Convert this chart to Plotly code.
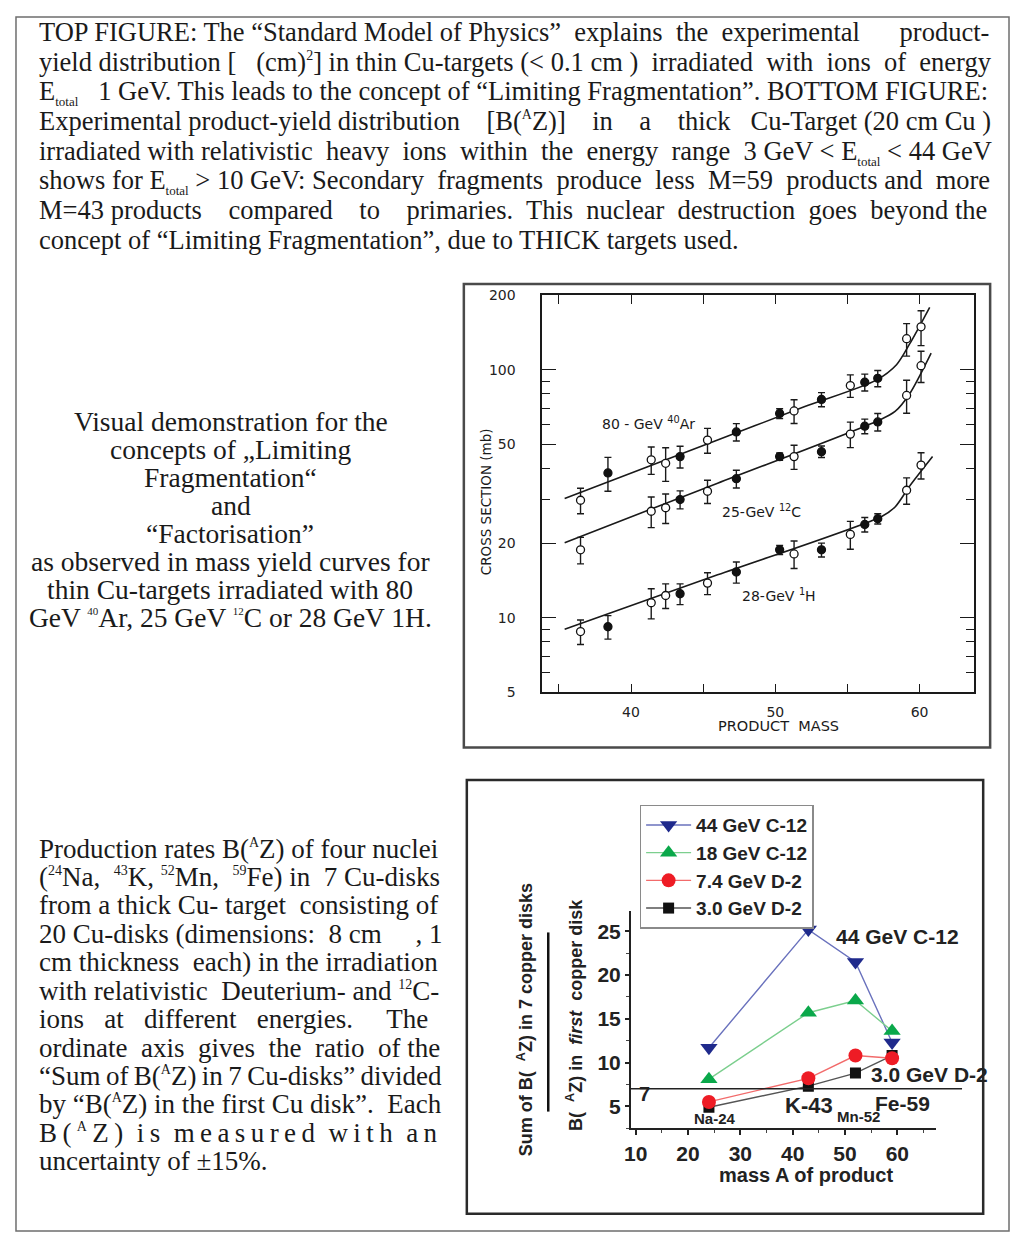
import plotly.graph_objects as go

# the page keeps the browser's 8px body margin: figure 1002x1232 placed at (8, 8) of the 1018x1248 page
PAGE_OFF = 8
W, H = 1002, 1232

# ---------------- top chart data (thin Cu targets) ----------------
mass_ar = [36.5, 38.4, 41.4, 42.4, 43.4, 45.3, 47.3, 50.3, 51.3, 53.2, 55.2, 56.2, 57.1, 59.1, 60.1]
sigma_ar = [29.8, 38.4, 43.4, 42.0, 44.7, 52.1, 56.2, 66.7, 68.3, 76.0, 86.5, 89.2, 92.5, 133.7, 149.3]
err_ar = [3.5, 6, 5.5, 6.5, 4.5, 6, 4.5, 3, 7.5, 5, 9, 7, 7, 20, 24]
filled_ar = [0, 1, 0, 0, 1, 0, 1, 1, 0, 1, 0, 1, 1, 0, 0]

mass_c = [36.5, 41.4, 42.4, 43.4, 45.3, 47.3, 50.3, 51.3, 53.2, 55.2, 56.2, 57.1, 59.1, 60.1]
sigma_c = [18.8, 26.9, 27.8, 30.0, 32.4, 36.4, 44.7, 44.7, 46.8, 55.1, 59.3, 61.7, 78.9, 104]
err_c = [2.3, 3.8, 3.8, 2.5, 3.5, 3, 1.5, 5, 2.5, 6.5, 4, 5, 12, 15]
filled_c = [0, 0, 0, 1, 0, 1, 1, 0, 1, 0, 1, 1, 0, 0]

mass_h = [36.5, 38.4, 41.4, 42.4, 43.4, 45.3, 47.3, 50.3, 51.3, 53.2, 55.2, 56.2, 57.1, 59.1, 60.1]
sigma_h = [8.8, 9.2, 11.5, 12.3, 12.5, 13.8, 15.3, 18.8, 18.1, 18.8, 21.7, 23.8, 25.1, 32.7, 41.3]
err_h = [1.0, 1.0, 1.6, 1.4, 1.2, 1.4, 1.5, 0.8, 2.3, 1.2, 2.8, 1.6, 1.2, 4, 5]
filled_h = [0, 1, 0, 0, 1, 0, 1, 1, 0, 1, 0, 1, 1, 0, 0]

fit_ar_m = [35.4, 46, 52, 57.0, 58.4, 59.3, 60.7]
fit_ar_s = [30.3, 52.1, 71, 91, 105, 127, 179]
fit_c_m = [35.4, 46, 57.2, 58.3, 59.3, 60.8]
fit_c_s = [20.1, 34.9, 62.7, 68, 80, 117]
fit_h_m = [35.4, 46, 57.4, 58.3, 59.3, 60.9]
fit_h_s = [9.0, 14.9, 25.7, 28, 33.9, 44.7]

top_ytick_vals = [5, 10, 20, 50, 100, 200]
top_ytick_minor = [6, 7, 8, 9, 30, 40, 60, 70, 80, 90]
top_xtick_vals = [40, 50, 60]
top_xtick_minor = [35, 45, 55]

# ---------------- bottom chart data (thick Cu target) ----------------
product_mass = [24, 43, 52, 59]
ratio_c12_44 = [11.7, 25.2, 21.5, 12.3]
ratio_c12_18 = [8.1, 15.7, 17.1, 13.6]
ratio_d2_74 = [5.5, 8.2, 10.8, 10.5]
ratio_d2_30 = [4.9, 7.3, 8.8, 10.8]
ref_level = 7


def fx(x):
    return (x - PAGE_OFF) / W


def fy(y):
    return 1 - (y - PAGE_OFF) / H


def sup(s, size):
    return '<sup><span style="font-size:%gpx">%s</span></sup>' % (size, s)


def sub(s, size):
    return '<sub><span style="font-size:%gpx">%s</span></sub>' % (size, s)


fig = go.Figure()

# ---- top chart traces ----
for m, s in [(fit_ar_m, fit_ar_s), (fit_c_m, fit_c_s), (fit_h_m, fit_h_s)]:
    fig.add_trace(go.Scatter(x=m, y=s, mode="lines", line=dict(color="#1a1a1a", width=1.6, shape="spline", smoothing=0.8),
                             xaxis="x", yaxis="y", showlegend=False, hoverinfo="skip"))
for m, s, e, f in [(mass_ar, sigma_ar, err_ar, filled_ar), (mass_c, sigma_c, err_c, filled_c), (mass_h, sigma_h, err_h, filled_h)]:
    fig.add_trace(go.Scatter(
        x=m, y=s, mode="markers", xaxis="x", yaxis="y", showlegend=False,
        error_y=dict(type="data", array=e, visible=True, color="#1a1a1a", thickness=1.4, width=3.5),
        marker=dict(symbol="circle", size=8, color=["#111" if v else "white" for v in f],
                    line=dict(color="#111", width=1.3))))

# ---- bottom chart traces (drawn: black, red, blue, green) ----
bottom_series = [
    ("3.0 GeV D-2", ratio_d2_30, "square", 11, "#111111", "#555555", 4),
    ("7.4 GeV D-2", ratio_d2_74, "circle", 14, "#ee1c25", "#f26b6b", 3),
    ("44 GeV C-12", ratio_c12_44, "triangle-down", 15, "#1f2a8c", "#6a72bd", 1),
    ("18 GeV C-12", ratio_c12_18, "triangle-up", 15, "#0aa84a", "#7ccf8e", 2),
]
for name, vals, sym, size, mc, lc, rank in bottom_series:
    fig.add_trace(go.Scatter(
        x=product_mass, y=vals, mode="lines+markers", name=name, legendrank=rank,
        xaxis="x2", yaxis="y2",
        line=dict(color=lc, width=1.4),
        marker=dict(symbol=sym, size=size, color=mc, line=dict(width=0))))

serif = "Liberation Serif, Times New Roman, serif"
sans = "Liberation Sans, Arial, sans-serif"
lettering = "DejaVu Sans, sans-serif"
# invisible sup+sub so that every paragraph line gets the same box height (keeps baselines even)
PAD = "<sup> </sup><sub> </sub>"

annotations = []


def txt(x, y, s, size, font=serif, xanchor="left", color="#1a1a1a", angle=0, yanchor="middle"):
    annotations.append(dict(x=fx(x), y=fy(y), xref="paper", yref="paper", text=s, showarrow=False,
                            xanchor=xanchor, yanchor=yanchor, textangle=angle,
                            font=dict(family=font, size=size, color=color)))


# ---- top paragraph ----
Et = "E" + sub("total", 13)
top_lines = [
    "TOP FIGURE: The “Standard Model of Physics”  explains  the  experimental      product-",
    "yield distribution [   (cm)" + sup("2", 14) + "] in thin Cu-targets (&lt; 0.1 cm )  irradiated  with  ions  of  energy",
    Et + "   1 GeV. This leads to the concept of “Limiting Fragmentation”. BOTTOM FIGURE:",
    "Experimental product-yield distribution    [B(" + sup("A", 14) + "Z)]    in    a    thick   Cu-Target (20 cm Cu )",
    "irradiated with relativistic  heavy  ions  within  the  energy  range  3 GeV &lt; " + Et + " &lt; 44 GeV",
    "shows for " + Et + " &gt; 10 GeV: Secondary  fragments  produce  less  M=59  products and  more",
    "M=43 products    compared    to    primaries.  This  nuclear  destruction  goes  beyond the",
    "concept of “Limiting Fragmentation”, due to THICK targets used.",
]
for i, s in enumerate(top_lines):
    txt(30, 24 + i * 30.1, s + PAD, 26.5)

# ---- middle paragraph ----
mid_lines = [
    "Visual demonstration for the",
    "concepts of „Limiting",
    "Fragmentation“",
    "and",
    "“Factorisation”",
    "as observed in mass yield curves for",
    "thin Cu-targets irradiated with 80",
    "GeV " + sup("40", 11) + "Ar, 25 GeV " + sup("12", 11) + "C or 28 GeV 1H.",
]
for i, s in enumerate(mid_lines):
    txt(230, 418 + i * 28.4, s + PAD, 27.5, xanchor="center")

# ---- lower paragraph ----
TS = "\u2009"
BAZ = "B(" + sup("A", 14) + "Z)"
low_lines = [
    "Production rates " + BAZ + " of four nuclei",
    "(" + sup("24", 14) + "Na,  " + sup("43", 14) + "K, " + sup("52", 14) + "Mn,  " + sup("59", 14) + "Fe) in  7 Cu-disks",
    "from a thick Cu- target  consisting of",
    "20 Cu-disks (dimensions:  8 cm     , 1",
    "cm thickness  each) in the irradiation",
    "with relativistic  Deuterium- and " + sup("12", 14) + "C-",
    "ions   at   different   energies.     The",
    "ordinate  axis  gives  the  ratio  of the",
    TS.join(["“Sum", "of", BAZ, "in", "7", "Cu-disks”", "divided"]),
    "by “" + BAZ + " in the first Cu disk”.  Each",
    TS.join("B(") + TS + sup("A", 14) + TS + TS.join("Z)") + "  " + TS.join("is") + "  "
    + TS.join("measured") + "  " + TS.join("with") + "  " + TS.join("an"),
    "uncertainty of ±15%.",
]
for i, s in enumerate(low_lines):
    txt(30, 851.5 + i * 28.8, s + PAD, 27)

# ---- top chart labels ----
txt(597, 420, "80 - GeV <sup>40</sup>Ar", 14, font=lettering)
txt(718, 510, "25-GeV <sup>12</sup>C", 14, font=lettering)
txt(738, 595, "28-GeV <sup>1</sup>H", 14, font=lettering)
txt(482, 500, "CROSS SECTION (mb)", 13.5, font=lettering, xanchor="center", angle=-90)
txt(777, 727, "PRODUCT  MASS", 14.5, font=lettering, xanchor="center")

# ---- bottom chart labels ----
txt(833, 941, "<b>44 GeV C-12</b>", 21, font=sans, color="#222")
txt(868, 1080, "<b>3.0 GeV D-2</b>", 21, font=sans, color="#222")
txt(634, 1100, "<b>7</b>", 20, font=sans, color="#222")
txt(713, 1125, "<b>Na-24</b>", 15, font=sans, color="#222", xanchor="center")
txt(808, 1112, "<b>K-43</b>", 22, font=sans, color="#222", xanchor="center")
txt(857, 1123, "<b>Mn-52</b>", 15, font=sans, color="#222", xanchor="center")
txt(902, 1110, "<b>Fe-59</b>", 21, font=sans, color="#222", xanchor="center")
txt(805, 1182, "<b>mass A of product</b>", 20, font=sans, color="#222", xanchor="center")
narrow = "Liberation Sans Narrow, Liberation Sans, Arial, sans-serif"
txt(522, 1025, "<b>Sum of B(  <sup>A</sup>Z) in 7 copper disks</b>", 18, font=narrow, color="#222",
    xanchor="center", angle=-90)
txt(572, 1020, "<b>B(  <sup>A</sup>Z) in  <i>first</i>  copper disk</b>", 18, font=narrow, color="#222",
    xanchor="center", angle=-90)

shapes = [
    dict(type="rect", xref="paper", yref="paper", x0=fx(9), x1=fx(1009), y0=fy(9), y1=fy(1239),
         line=dict(color="#6e6e6e", width=1.5)),
    dict(type="rect", xref="paper", yref="paper", x0=fx(460), x1=fx(990), y0=fy(279.5), y1=fy(749),
         line=dict(color="#4a4a4a", width=2.5)),
    dict(type="rect", xref="paper", yref="paper", x0=fx(463), x1=fx(983), y0=fy(782), y1=fy(1221.5),
         line=dict(color="#2a2a2a", width=2.5)),
    dict(type="line", xref="paper", yref="paper", x0=fx(545), x1=fx(545), y0=fy(936.5), y1=fy(1118),
         line=dict(color="#111", width=2.5)),
    dict(type="line", xref="paper", yref="y2", x0=fx(628.3), x1=fx(961.7), y0=ref_level, y1=ref_level,
         line=dict(color="#222", width=1.5)),
]

fig.update_layout(
    width=W, height=H, margin=dict(l=0, r=0, t=0, b=0),
    paper_bgcolor="white", plot_bgcolor="rgba(0,0,0,0)",
    annotations=annotations, shapes=shapes,
    xaxis=dict(domain=[fx(539), fx(973.3)], range=[33.85, 63.74], showgrid=False, zeroline=False,
               showline=True, linecolor="#1a1a1a", linewidth=1.6, mirror="ticks",
               ticks="inside", ticklen=9, tickwidth=1.4, tickcolor="#1a1a1a",
               tickvals=top_xtick_vals, ticklabelstandoff=6,
               minor=dict(tickvals=top_xtick_minor, ticks="inside", ticklen=9, tickwidth=1.4, tickcolor="#1a1a1a"),
               tickfont=dict(family=lettering, size=14, color="#222")),
    yaxis=dict(domain=[fy(693.3), fy(291)], type="log", range=[0.69897, 2.30103], showgrid=False,
               zeroline=False, showline=True, linecolor="#1a1a1a", linewidth=1.6, mirror="ticks",
               ticks="inside", ticklen=14, tickwidth=1.4, tickcolor="#1a1a1a",
               tickvals=top_ytick_vals, ticktext=[str(v) for v in top_ytick_vals], ticklabelstandoff=22,
               minor=dict(tickvals=top_ytick_minor, ticks="inside", ticklen=8, tickwidth=1.3, tickcolor="#1a1a1a"),
               tickfont=dict(family=lettering, size=14, color="#222")),
    xaxis2=dict(domain=[fx(628.3), fx(935)], range=[9.1, 67.3], anchor="y2", showgrid=False, zeroline=False,
                showline=True, linecolor="#222", linewidth=2, ticks="outside", ticklen=5, tickwidth=1.5,
                tickcolor="#222", tickvals=[10, 20, 30, 40, 50, 60],
                minor=dict(dtick=5, ticks="outside", ticklen=3, tickwidth=1.2, tickcolor="#444"),
                tickfont=dict(family=sans, size=21, color="#222", weight="bold")),
    yaxis2=dict(domain=[fy(1135), fy(915)], range=[2.48, 27.3], anchor="x2", showgrid=False, zeroline=False,
                showline=True, linecolor="#222", linewidth=2, ticks="outside", ticklen=4, tickwidth=1.5,
                tickcolor="#222", tickvals=[5, 10, 15, 20, 25], ticklabelstandoff=0,
                minor=dict(dtick=2.5, ticks="outside", ticklen=3, tickwidth=1.2, tickcolor="#444"),
                tickfont=dict(family=sans, size=21, color="#222", weight="bold")),
    legend=dict(x=fx(637), y=fy(807), xanchor="left", yanchor="top", bgcolor="white",
                bordercolor="#8a8a8a", borderwidth=1.5, tracegroupgap=0, itemwidth=45,
                font=dict(family=sans, size=19, color="#222", weight="bold")),
)

fig.write_html("out.html", config={"displayModeBar": False})
